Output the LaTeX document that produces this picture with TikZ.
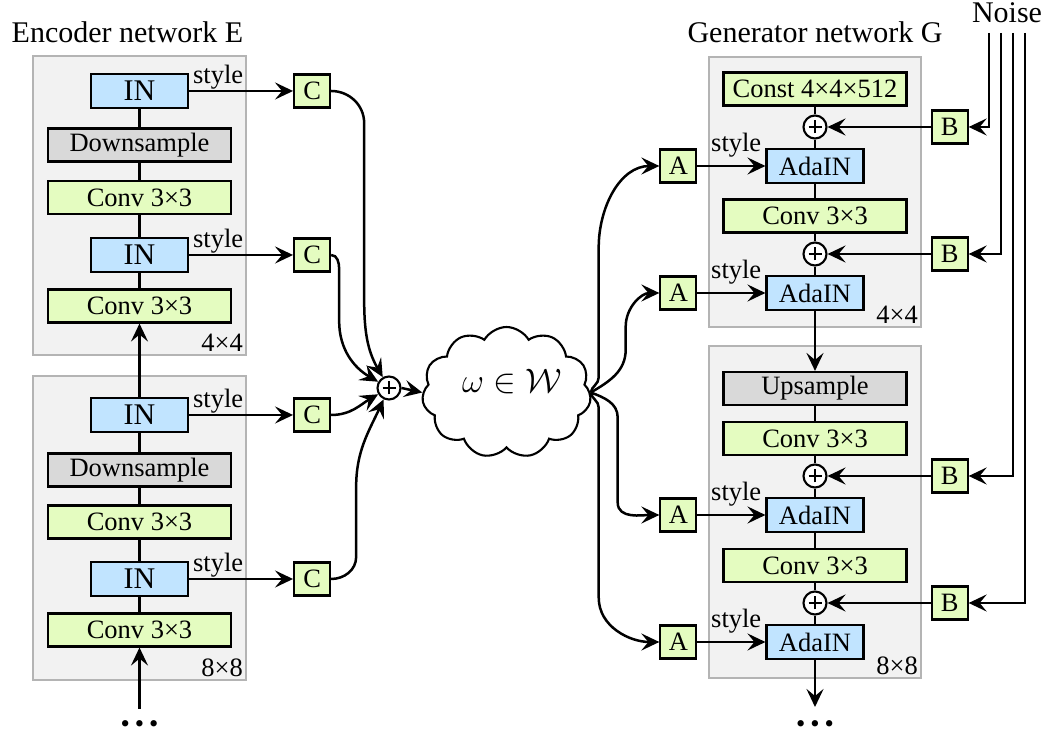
\RequirePackage{fix-cm}
\documentclass[tikz,border=0pt]{standalone}
\usepackage{fontspec}
\setmainfont{Liberation Serif}
\usetikzlibrary{arrows.meta,positioning,shapes.symbols}
\definecolor{normblue}{RGB}{193,228,255}
\definecolor{convgreen}{RGB}{228,252,192}
\definecolor{samplegray}{RGB}{217,217,217}
\definecolor{panelgray}{RGB}{242,242,242}
\definecolor{paneledge}{RGB}{180,180,180}

\begin{document}
\begin{tikzpicture}[
  x=1pt, y=1pt,
  font=\fontsize{26.5}{30}\selectfont,
  panel/.style={draw=paneledge, fill=panelgray, line width=2.2pt, minimum width=213pt},
  norm/.style={draw, line width=2.1pt, fill=normblue, minimum width=97pt, minimum height=34pt, inner sep=2pt},
  instnorm/.style={norm, font=\fontsize{30}{34}\selectfont},
  conv/.style={draw, line width=2.1pt, fill=convgreen, minimum width=183pt, minimum height=33pt, inner sep=2pt},
  resample/.style={conv, fill=samplegray},
  sbox/.style={draw, line width=2.1pt, fill=convgreen, minimum width=36pt, minimum height=33pt, inner sep=2pt},
  sum/.style={draw, circle, fill=white, line width=2.1pt, minimum size=23pt, inner sep=0pt,
    path picture={\draw[line width=1.5pt] ([xshift=-6.5pt]path picture bounding box.center) -- ([xshift=6.5pt]path picture bounding box.center)
      ([yshift=-6.5pt]path picture bounding box.center) -- ([yshift=6.5pt]path picture bounding box.center);}},
  res/.style={anchor=south east, inner sep=4pt},
  title/.style={font=\fontsize{30}{34}\selectfont, anchor=base},
  lbl/.style={inner sep=1pt},
  conn/.style={line width=2.5pt},
  arrow/.style={conn, -{Stealth[length=18pt, width=17pt, inset=7pt]}}
]
\useasboundingbox (0,0) rectangle (1049,738);

\node[panel, minimum height=299pt] (encA) at (139.5,532.5) {};
\node[panel, minimum height=304pt] (encB) at (139.5,210) {};
\node[panel, minimum width=212pt, minimum height=270pt] (genA) at (815,546) {};
\node[panel, minimum width=212pt, minimum height=332pt] (genB) at (815,226) {};
\node[res] (encAres) at (encA.south east) {4×4};
\node[res] (encBres) at (encB.south east) {8×8};
\node[res] (genAres) at (genA.south east) {4×4};
\node[res] (genBres) at (genB.south east) {8×8};

\node[title] (enctitle) at (127.5,695) {Encoder network E};
\node[title] (gentitle) at (815,695) {Generator network G};
\node[title] (noise) at (1007,715) {Noise};

\node[instnorm] (in1) at (139.5,647) {IN};
\node[resample] (ds1) at (139.5,593) {Downsample};
\node[conv] (cv1) at (139.5,540.5) {Conv 3×3};
\node[instnorm] (in2) at (139.5,483) {IN};
\node[conv] (cv2) at (139.5,432) {Conv 3×3};
\node[instnorm] (in3) at (139.5,323) {IN};
\node[resample] (ds2) at (139.5,268) {Downsample};
\node[conv] (cv3) at (139.5,216) {Conv 3×3};
\node[instnorm] (in4) at (139.5,159) {IN};
\node[conv] (cv4) at (139.5,108) {Conv 3×3};
\node[sbox, right=104pt of in1] (c1) {C};
\node[sbox, right=104pt of in2] (c2) {C};
\node[sbox, right=104pt of in3] (c3) {C};
\node[sbox, right=104pt of in4] (c4) {C};
\coordinate (ein) at (139.5,29);
\node[inner sep=0pt] (edots) at (139.5,11) {\textbullet\hspace{5pt}\textbullet\hspace{5pt}\textbullet};

\node[sum] (sum) at (389,350) {};
\node[cloud, draw, line width=2.1pt, cloud puffs=11, cloud puff arc=120, minimum width=169pt, minimum height=131pt] (wspace) at (506.5,345.5) {};
\node[font=\fontsize{34}{38}\selectfont] (wtext) at (512,356) {$\omega\in\mathcal{W}$};

\node[conv] (const) at (815,649) {Const 4×4×512};
\node[sum] (p1) at (815,611) {};
\node[norm] (ada1) at (815,572) {AdaIN};
\node[conv] (gcv1) at (815,522) {Conv 3×3};
\node[sum] (p2) at (815,484) {};
\node[norm] (ada2) at (815,445) {AdaIN};
\node[resample] (up) at (815,349.5) {Upsample};
\node[conv] (gcv2) at (815,299.5) {Conv 3×3};
\node[sum] (p3) at (815,262) {};
\node[norm] (ada3) at (815,223) {AdaIN};
\node[conv] (gcv3) at (815,172.5) {Conv 3×3};
\node[sum] (p4) at (815,135) {};
\node[norm] (ada4) at (815,96) {AdaIN};
\node[sbox, left=68pt of ada1] (a1) {A};
\node[sbox, left=68pt of ada2] (a2) {A};
\node[sbox, left=68pt of ada3] (a3) {A};
\node[sbox, left=68pt of ada4] (a4) {A};
\node[sbox, right=103pt of p1] (b1) {B};
\node[sbox, right=103pt of p2] (b2) {B};
\node[sbox, right=103pt of p3] (b3) {B};
\node[sbox, right=103pt of p4] (b4) {B};
\coordinate (n1) at (989,705);
\coordinate (n2) at (1001,705);
\coordinate (n3) at (1013,705);
\coordinate (n4) at (1025,705);
\coordinate (gout) at (815,31);
\node[inner sep=0pt] (gdots) at (815,11) {\textbullet\hspace{5pt}\textbullet\hspace{5pt}\textbullet};

\draw[conn] (in1) -- (ds1) -- (cv1) -- (in2) -- (cv2);
\draw[arrow] (in3) -- (cv2);
\draw[conn] (in3) -- (ds2) -- (cv3) -- (in4) -- (cv4);
\draw[arrow] (ein) -- (cv4);
\draw[arrow] (in1) -- node[lbl, above, pos=0.28] {style} (c1);
\draw[arrow] (in2) -- node[lbl, above, pos=0.28] {style} (c2);
\draw[arrow] (in3) -- node[lbl, above, pos=0.28] {style} (c3);
\draw[arrow] (in4) -- node[lbl, above, pos=0.28] {style} (c4);

\draw[arrow] (c1.east) to[out=0,in=90] ++(33,-32) -- ++(0,-175) to[out=-90,in=120] (sum);
\draw[arrow] (c2.east) to[out=0,in=90] ++(8,-14) -- ++(0,-52) to[out=-90,in=150] (sum);
\draw[arrow] (c3.east) to[out=0,in=210] (sum);
\draw[arrow] (c4.east) to[out=0,in=-90] ++(25,22) -- ++(0,70) to[out=90,in=245] (sum);
\draw[arrow] (sum.east) -- (wspace.west);

\draw[arrow] (wspace.east) to[out=80,in=-90] ++(8,15) -- ++(0,130) to[out=90,in=180] (a1);
\draw[arrow] (wspace.east) to[out=30,in=-90] ++(35,43) -- ++(0,23) to[out=90,in=180] (a2);
\draw[arrow] (wspace.east) to[out=-20,in=90] ++(27,-25) -- ++(0,-85) to[out=-90,in=180] (a3);
\draw[arrow] (wspace.east) to[out=-80,in=90] ++(8,-15) -- ++(0,-190) to[out=-90,in=180] (a4);

\draw[conn] (const) -- (p1) -- (ada1) -- (gcv1) -- (p2) -- (ada2);
\draw[arrow] (ada2) -- (up);
\draw[conn] (up) -- (gcv2) -- (p3) -- (ada3) -- (gcv3) -- (p4) -- (ada4);
\draw[arrow] (ada4) -- (gout);
\draw[arrow] (a1) -- node[lbl, above=7pt, pos=0.57] {style} (ada1);
\draw[arrow] (a2) -- node[lbl, above=7pt, pos=0.57] {style} (ada2);
\draw[arrow] (a3) -- node[lbl, above=7pt, pos=0.57] {style} (ada3);
\draw[arrow] (a4) -- node[lbl, above=7pt, pos=0.57] {style} (ada4);
\draw[arrow] (b1) -- (p1);
\draw[arrow] (b2) -- (p2);
\draw[arrow] (b3) -- (p3);
\draw[arrow] (b4) -- (p4);
\draw[arrow] (n1) |- (b1);
\draw[arrow] (n2) |- (b2);
\draw[arrow] (n3) |- (b3);
\draw[arrow] (n4) |- (b4);
\end{tikzpicture}
\end{document}
